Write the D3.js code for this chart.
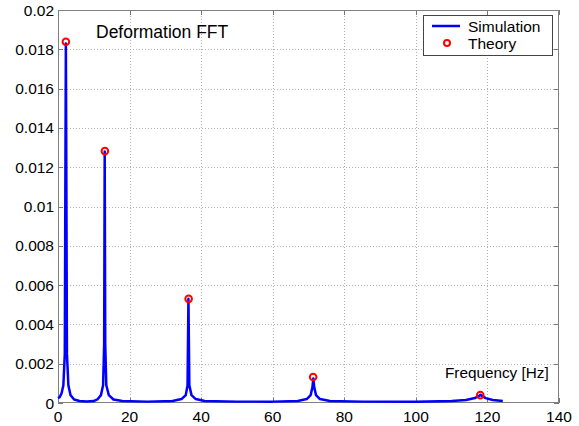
<!DOCTYPE html>
<html><head><meta charset="utf-8">
<script src="https://cdn.jsdelivr.net/npm/d3@7"></script>
<style>body{margin:0;background:#fff}svg{display:block}text{font-family:"Liberation Sans",Arial,sans-serif}</style>
</head><body>
<svg id="c" width="579" height="426"></svg>
<script>
// Data
const xTicks = [0,20,40,60,80,100,120,140];
const yTicks = [0,0.002,0.004,0.006,0.008,0.01,0.012,0.014,0.016,0.018,0.02];
const yTickLabels = ["0","0.002","0.004","0.006","0.008","0.01","0.012","0.014","0.016","0.018","0.02"];
const simFreq = [0,0.5,1.0,1.5,1.9,2.05,2.2,2.35,2.5,2.9,3.5,4.5,6,8,10,11,12,12.6,12.9,13.05,13.2,13.5,14.2,15.5,18,25,32,34.5,35.7,36.2,36.45,36.7,37.3,38.5,41,50,60,67,69.5,70.6,71.1,71.35,71.6,72.1,73.2,76,85,100,110,114,116.5,117.8,118.1,118.5,119.5,121.5,124.3];
const simAmp = [0.00025,0.0003,0.0005,0.0009,0.0025,0.0107,0.0183,0.0107,0.0025,0.0009,0.0004,0.00018,0.0001,0.00008,0.0001,0.00018,0.0004,0.0009,0.003,0.0128,0.003,0.0009,0.0004,0.00018,0.0001,0.00007,0.0001,0.0002,0.0004,0.0009,0.0053,0.0009,0.0004,0.0002,0.0001,0.00007,0.00007,0.0001,0.0002,0.0004,0.0008,0.00125,0.0008,0.0004,0.0002,0.0001,0.00007,0.00007,0.0001,0.00015,0.00025,0.00038,0.00042,0.00036,0.00025,0.00015,0.0001];
const theoryFreq = [2.2,13.1,36.5,71.3,118.0];
const theoryAmp = [0.01838,0.01282,0.0053,0.00132,0.0004];

const svg = d3.select("#c");
const L=58, R=559, T=10, B=403;
const x = d3.scaleLinear().domain([0,140]).range([L,R]);
const y = d3.scaleLinear().domain([0,0.02]).range([B,T]);

// grid
const g = svg.append("g");
g.selectAll(".gx").data(xTicks.slice(1,-1)).join("line")
  .attr("x1",d=>Math.round(x(d))+0.5).attr("x2",d=>Math.round(x(d))+0.5).attr("y1",T).attr("y2",B)
  .attr("stroke","#b0b0b0").attr("stroke-width",1).attr("stroke-dasharray","1,2");
g.selectAll(".gy").data(yTicks.slice(1,-1)).join("line")
  .attr("y1",d=>Math.round(y(d))+0.5).attr("y2",d=>Math.round(y(d))+0.5).attr("x1",L).attr("x2",R)
  .attr("stroke","#b0b0b0").attr("stroke-width",1).attr("stroke-dasharray","1,2");

// ticks (inward, all sides)
const tk=5;
xTicks.forEach(d=>{
  const xx=Math.round(x(d))+0.5;
  svg.append("line").attr("x1",xx).attr("x2",xx).attr("y1",B).attr("y2",B-tk).attr("stroke","#777");
  svg.append("line").attr("x1",xx).attr("x2",xx).attr("y1",T).attr("y2",T+tk).attr("stroke","#777");
});
yTicks.forEach(d=>{
  const yy=Math.round(y(d))+0.5;
  svg.append("line").attr("x1",L).attr("x2",L+tk).attr("y1",yy).attr("y2",yy).attr("stroke","#777");
  svg.append("line").attr("x1",R).attr("x2",R-tk).attr("y1",yy).attr("y2",yy).attr("stroke","#777");
});

// box
svg.append("rect").attr("x",L+0.5).attr("y",T+0.5).attr("width",R-L-1).attr("height",B-T-1)
  .attr("fill","none").attr("stroke","#808080").attr("stroke-width",1);

// tick labels
svg.selectAll(".xl").data(xTicks).join("text")
  .attr("x",d=>x(d)).attr("y",422).attr("text-anchor","middle")
  .attr("font-size",15.5).attr("fill","#000").text(d=>d);
svg.selectAll(".yl").data(yTicks).join("text")
  .attr("x",L-4).attr("y",d=>y(d)+5.5).attr("text-anchor","end")
  .attr("font-size",15.5).attr("fill","#000").text((d,i)=>yTickLabels[i]);

// simulation line
const simData = simFreq.map((f,i)=>[f,simAmp[i]]);
svg.append("path").datum(simData)
  .attr("d",d3.line().x(d=>x(d[0])).y(d=>y(d[1])))
  .attr("fill","none").attr("stroke","#0000ff").attr("stroke-width",2.5).attr("stroke-linejoin","round");

// theory markers
svg.selectAll(".th").data(theoryFreq).join("circle")
  .attr("cx",d=>x(d)).attr("cy",(d,i)=>y(theoryAmp[i])).attr("r",3.3)
  .attr("fill","none").attr("stroke","#ff0000").attr("stroke-width",2);

// annotations
svg.append("text").attr("x",96).attr("y",38).attr("font-size",17.5).text("Deformation FFT");
svg.append("text").attr("x",445).attr("y",378).attr("font-size",15.3).text("Frequency [Hz]");

// legend
const lg = svg.append("g");
lg.append("rect").attr("x",423.5).attr("y",15.5).attr("width",129).attr("height",40)
  .attr("fill","#fff").attr("stroke","#444").attr("stroke-width",1);
lg.append("line").attr("x1",432).attr("x2",460).attr("y1",26).attr("y2",26)
  .attr("stroke","#0000ff").attr("stroke-width",2.5);
lg.append("text").attr("x",468).attr("y",31.5).attr("font-size",15.5).text("Simulation");
lg.append("circle").attr("cx",447).attr("cy",43).attr("r",3).attr("fill","none")
  .attr("stroke","#ff0000").attr("stroke-width",2);
lg.append("text").attr("x",468).attr("y",49).attr("font-size",15.5).text("Theory");
</script>
</body></html>
